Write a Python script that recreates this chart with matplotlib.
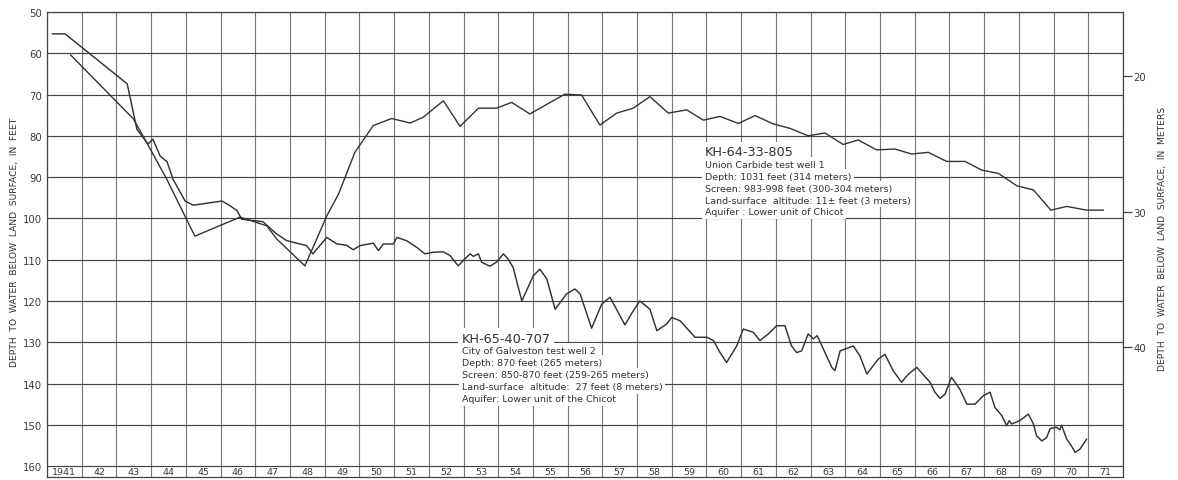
import matplotlib
matplotlib.use("Agg")
import matplotlib.pyplot as plt

FT_TO_M = 0.3048

# KH-65-40-707, City of Galveston test well 2 (year, depth in feet)
galv_year = [
    1941.16, 1941.52, 1943.31, 1943.59, 1943.91, 1944.05, 1944.26, 1944.46, 1944.63, 1944.98,
    1945.21, 1946.04, 1946.27, 1946.47, 1946.61, 1947.22, 1947.62, 1947.91, 1948.29, 1948.48,
    1948.66, 1949.06, 1949.35, 1949.63, 1949.82, 1950.02, 1950.40, 1950.55, 1950.69, 1950.98,
    1951.08, 1951.36, 1951.65, 1951.89, 1952.13, 1952.42, 1952.61, 1952.85, 1953.04, 1953.19,
    1953.28, 1953.43, 1953.52, 1953.76, 1953.95, 1954.15, 1954.29, 1954.43, 1954.68, 1955.01,
    1955.20, 1955.40, 1955.64, 1955.97, 1956.21, 1956.36, 1956.69, 1956.98, 1957.22, 1957.65,
    1957.89, 1958.08, 1958.37, 1958.57, 1958.85, 1959.00, 1959.24, 1959.67, 1960.01, 1960.20,
    1960.39, 1960.58, 1960.87, 1961.06, 1961.35, 1961.54, 1961.78, 1962.02, 1962.26, 1962.45,
    1962.60, 1962.74, 1962.93, 1963.08, 1963.19, 1963.37, 1963.61, 1963.70, 1963.85, 1964.23,
    1964.42, 1964.62, 1964.95, 1965.14, 1965.38, 1965.62, 1965.82, 1966.06, 1966.44, 1966.58,
    1966.73, 1966.87, 1967.06, 1967.30, 1967.50, 1967.74, 1967.97, 1968.17, 1968.31, 1968.51,
    1968.65, 1968.72, 1968.79, 1969.03, 1969.27, 1969.42, 1969.51, 1969.66, 1969.80, 1969.90,
    1970.09, 1970.18, 1970.23, 1970.38, 1970.52, 1970.62, 1970.76, 1970.95,
]
galv_depth = [
    55.3, 55.3, 67.4, 78.4, 82.0, 80.8, 84.9, 86.3, 90.5, 95.8,
    96.8, 95.8, 96.9, 98.1, 100.2, 100.8, 103.8, 105.4, 106.2, 106.6,
    108.6, 104.6, 106.2, 106.5, 107.6, 106.6, 106.0, 107.8, 106.2, 106.2,
    104.6, 105.4, 107.0, 108.6, 108.2, 108.1, 109.0, 111.5, 109.8, 108.6,
    109.2, 108.6, 110.6, 111.6, 110.6, 108.6, 109.9, 111.9, 120.0, 113.9,
    112.3, 114.7, 122.0, 118.3, 117.1, 118.3, 126.6, 120.8, 119.1, 125.8,
    122.4, 120.0, 122.0, 127.2, 125.6, 124.0, 124.8, 128.8, 128.8, 129.6,
    132.5, 134.9, 130.9, 126.8, 127.6, 129.6, 128.0, 126.0, 126.0, 130.9,
    132.5, 132.1, 128.0, 129.2, 128.4, 131.7, 136.1, 136.9, 132.1, 130.9,
    133.3, 137.7, 134.1, 132.9, 136.9, 139.7, 137.7, 136.1, 139.7, 142.1,
    143.6, 142.6, 138.5, 141.4, 145.0, 145.0, 143.0, 142.1, 145.8, 147.8,
    150.2, 149.0, 149.8, 149.0, 147.4, 149.8, 152.7, 153.9, 153.1, 150.9,
    150.6, 151.2, 150.1, 153.5, 155.2, 156.7, 155.9, 153.5,
]

# KH-64-33-805, Union Carbide test well 1 (year, depth in feet)
uc_year = [
    1941.68, 1943.49, 1943.87, 1944.45, 1945.26, 1946.56, 1947.33, 1947.62, 1948.43, 1948.77,
    1949.06, 1949.40, 1949.87, 1950.40, 1950.93, 1951.46, 1951.84, 1952.42, 1952.90, 1953.43,
    1953.95, 1954.39, 1954.91, 1955.92, 1956.40, 1956.93, 1957.41, 1957.89, 1958.37, 1958.90,
    1959.43, 1959.91, 1960.39, 1960.92, 1961.40, 1961.92, 1962.41, 1962.93, 1963.41, 1963.94,
    1964.37, 1964.90, 1965.43, 1965.91, 1966.39, 1966.92, 1967.45, 1967.93, 1968.41, 1968.94,
    1969.42, 1969.92, 1970.38, 1970.95, 1971.43,
]
uc_depth = [
    60.4, 75.9, 81.6, 90.5, 104.3, 99.7, 101.8, 105.0, 111.5, 105.0,
    99.4, 94.1, 84.0, 77.5, 75.8, 76.9, 75.5, 71.5, 77.7, 73.3,
    73.3, 71.9, 74.7, 69.9, 70.1, 77.4, 74.5, 73.3, 70.5, 74.5,
    73.7, 76.2, 75.3, 77.0, 75.1, 77.1, 78.2, 80.0, 79.3, 82.1,
    81.0, 83.4, 83.2, 84.4, 84.0, 86.2, 86.2, 88.3, 89.1, 92.1,
    93.1, 98.0, 97.1, 98.0, 98.0,
]

feet_ticks = list(range(50, 161, 10))
meter_ticks = [20, 30, 40]
years = list(range(1941, 1972))
year_labels = ["1941"] + [str(y % 100) for y in years[1:]]

uc_notes = [
    "Union Carbide test well 1",
    "Depth: 1031 feet (314 meters)",
    "Screen: 983-998 feet (300-304 meters)",
    "Land-surface  altitude: 11\u00b1 feet (3 meters)",
    "Aquifer : Lower unit of Chicot",
]
galv_notes = [
    "City of Galveston test well 2",
    "Depth: 870 feet (265 meters)",
    "Screen: 850-870 feet (259-265 meters)",
    "Land-surface  altitude:  27 feet (8 meters)",
    "Aquifer: Lower unit of the Chicot",
]

INK = "#333333"
Y_BOTTOM = 162.65

fig = plt.figure(figsize=(11.78, 4.81), dpi=100)
ax = fig.add_axes([47 / 1178, 1 - 478 / 481, (1123 - 47) / 1178, (478 - 13) / 481])

ax.set_xlim(1941, 1972)
ax.set_ylim(Y_BOTTOM, 50)
ax.set_axisbelow(True)

ax.set_yticks(feet_ticks)
ax.set_yticklabels([str(v) for v in feet_ticks])
ax.set_xticks(range(1941, 1973))
ax.set_xticklabels([])
ax.tick_params(axis="both", length=0)
ax.tick_params(axis="y", pad=3.5, labelsize=7.3, labelcolor="#3a3a3a")
ax.grid(axis="y", color="#444444", lw=0.85)
ax.grid(axis="x", color="#7a7a7a", lw=0.85)
for s in ax.spines.values():
    s.set_color("#444444")
    s.set_linewidth(0.9)

# year row along the bottom band
for y, lab in zip(years, year_labels):
    ax.text(y + 0.5, (160 + Y_BOTTOM) / 2, lab, ha="center", va="center",
            fontsize=6.8, color="#3a3a3a")

ax.plot(galv_year, galv_depth, color=INK, lw=1.05, zorder=3, solid_joinstyle="round")
ax.plot(uc_year, uc_depth, color=INK, lw=1.0, zorder=3, solid_joinstyle="round")

box = dict(facecolor="white", edgecolor="none", boxstyle="square,pad=0.28")


def well_note(x, y0, title, lines, step):
    ax.text(x, y0, title, fontsize=9.3, color=INK, ha="left", va="center",
            bbox=box, zorder=2)
    for i, line in enumerate(lines):
        ax.text(x, y0 + step * (i + 1) + 0.1, line, fontsize=6.8, color=INK,
                ha="left", va="center", bbox=box, zorder=2)


well_note(1959.96, 83.85, "KH-64-33-805", uc_notes, 2.9)
well_note(1952.95, 129.0, "KH-65-40-707", galv_notes, 2.92)

# metric scale on the right
ax2 = ax.twinx()
ax2.set_ylim(Y_BOTTOM * FT_TO_M, 50 * FT_TO_M)
ax2.set_yticks(meter_ticks)
ax2.set_yticklabels([str(v) for v in meter_ticks])
ax2.tick_params(axis="y", direction="out", length=6.5, width=0.9, color="#444444",
                pad=1, labelsize=7.3, labelcolor="#3a3a3a")
for s in ax2.spines.values():
    s.set_visible(False)

fig.text(15 / 1178, 1 - 242 / 481, "DEPTH  TO  WATER  BELOW  LAND  SURFACE,  IN  FEET",
         rotation=90, ha="center", va="center", fontsize=6.6, color="#333333")
fig.text(1163 / 1178, 1 - 239 / 481, "DEPTH  TO  WATER  BELOW  LAND  SURFACE,  IN  METERS",
         rotation=90, ha="center", va="center", fontsize=6.6, color="#333333")

fig.savefig("out.png", dpi=100, facecolor="white")
